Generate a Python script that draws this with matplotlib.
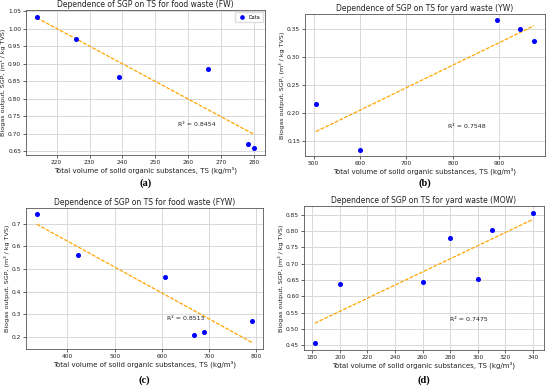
import numpy as np
import matplotlib
matplotlib.use("Agg")
import matplotlib.pyplot as plt

# Panel (a) food waste (FW)
fw_ts = [214, 226, 239, 266, 278, 280]
fw_sgp = [1.035, 0.970, 0.862, 0.885, 0.672, 0.658]
fw_r2 = "R² = 0.8454"

# Panel (b) yard waste (YW)
yw_ts = [505, 600, 896, 944, 975]
yw_sgp = [0.215, 0.134, 0.365, 0.350, 0.329]
yw_r2 = "R² = 0.7548"

# Panel (c) food waste (FYW)
fyw_ts = [335, 422, 606, 668, 688, 791]
fyw_sgp = [0.740, 0.560, 0.466, 0.210, 0.222, 0.270]
fyw_r2 = "R² = 0.8513"

# Panel (d) yard waste (MOW)
mow_ts = [182, 200, 260, 280, 300, 310, 340]
mow_sgp = [0.455, 0.637, 0.645, 0.780, 0.652, 0.802, 0.857]
mow_r2 = "R² = 0.7475"

titles = ["Dependence of SGP on TS for food waste (FW)",
          "Dependence of SGP on TS for yard waste (YW)",
          "Dependence of SGP on TS for food waste (FYW)",
          "Dependence of SGP on TS for yard waste (MOW)"]
letters = ["(a)", "(b)", "(c)", "(d)"]
xlabel = "Total volume of solid organic substances, TS (kg/m³)"
ylabel = "Biogas output, SGP, (m³ / kg TVS)"

fig = plt.figure(figsize=(5.5, 3.91), dpi=100)
W, H = 550, 391

def rect(l, t, r, b):
    return [l / W, 1 - b / H, (r - l) / W, (b - t) / H]

rects = [rect(26, 10, 265, 155), rect(305, 14, 545, 156),
         rect(26, 208, 263, 349), rect(304, 206, 544, 350)]
datasets = [(fw_ts, fw_sgp, fw_r2, (257, 0.725)),
            (yw_ts, yw_sgp, yw_r2, (790, 0.175)),
            (fyw_ts, fyw_sgp, fyw_r2, (611, 0.28)),
            (mow_ts, mow_sgp, mow_r2, (280, 0.53))]
letter_y = [183, 183, 380, 380]

for i, (r, (x, y, r2, tpos)) in enumerate(zip(rects, datasets)):
    ax = fig.add_axes(r)
    x = np.array(x, float)
    y = np.array(y, float)
    ax.plot(x, y, 'o', color='blue', markersize=2.6, label='Data', zorder=3)
    k, b = np.polyfit(x, y, 1)
    xs = np.array([x.min(), x.max()])
    ax.plot(xs, k * xs + b, '--', color='orange', lw=0.9, dashes=(3, 1.2), zorder=2)
    ax.text(tpos[0], tpos[1], r2, fontsize=4.5, ha='left', va='center', color='#222222')
    ax.set_title(titles[i], fontsize=5.5, pad=2.5, color='#222222')
    ax.set_xlabel(xlabel, fontsize=5, labelpad=1.5, color='#222222')
    ax.set_ylabel(ylabel, fontsize=4.6, labelpad=1.2, color='#222222')
    ax.tick_params(labelsize=4.2, length=2, width=0.5, pad=1.5, colors='#222222')
    ax.grid(True, color='#d8d8d8', lw=0.7)
    ax.set_axisbelow(True)
    for s in ax.spines.values():
        s.set_linewidth(0.6)
        s.set_color('#555555')
    if i == 0:
        ax.legend(loc='upper right', fontsize=3.5, markerscale=0.9, handletextpad=0.3,
                  borderpad=0.5, framealpha=1, edgecolor='#dddddd')
    cx = (r[0] + r[2] / 2)
    fig.text(cx, 1 - letter_y[i] / H, letters[i], fontsize=7.5, ha='center', va='center',
             family='Liberation Serif', weight='bold')

fig.savefig("out.png", dpi=100)
